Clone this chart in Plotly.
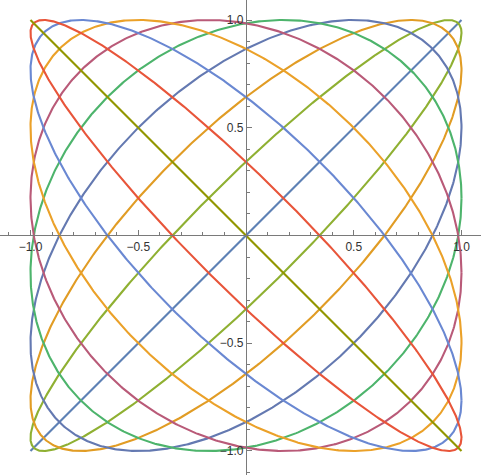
import numpy as np
import plotly.graph_objects as go

# Phase of each ellipse x = cos t, y = cos(t + k*pi/9)
phase_k = [0, 1, 2, 3, 4, 5, 6, 7, 8, 9]
phase_den = 9
colors = ["#5E81B5", "#8FB032", "#E19C24", "#6479B1", "#4DB46C",
          "#B95A78", "#EBA129", "#6A88D2", "#E8553A", "#929600"]

xtick_vals = [-1.0, -0.5, 0.5, 1.0]
xtick_text = ["\u22121.0", "\u22120.5", "0.5", "1.0"]
ytick_vals = [-1.0, -0.5, 0.5, 1.0]
ytick_text = ["\u22121.0", "\u22120.5", "0.5", "1.0"]

t = np.linspace(0, 2 * np.pi, 721)

fig = go.Figure()
for k, c in zip(phase_k, colors):
    phi = k * np.pi / phase_den
    fig.add_trace(go.Scatter(x=np.cos(t), y=np.cos(t + phi), mode="lines",
                             line=dict(color=c, width=2.1), hoverinfo="skip",
                             showlegend=False))

xr = [-1.1415, 1.0905]
yr = [-1.1114, 1.0928]
axis_col = "#7a7a7a"
font = dict(family="Liberation Sans, Arial, sans-serif", size=12, color="#333333")
minor_vals = [v / 10 for v in range(-11, 11) if v % 5 != 0]

fig.update_layout(
    width=481, height=475,
    margin=dict(l=0, r=0, t=0, b=0, autoexpand=False),
    plot_bgcolor="white", paper_bgcolor="white",
    font=font,
    xaxis=dict(range=xr, showgrid=False, zeroline=False, showline=True,
               linecolor=axis_col, linewidth=1.2, automargin=False,
               anchor="free", position=(0 - yr[0]) / (yr[1] - yr[0]),
               tickvals=xtick_vals, ticktext=xtick_text,
               ticks="inside", ticklen=5, tickcolor=axis_col, tickwidth=1,
               minor=dict(tickvals=minor_vals, ticks="inside", ticklen=3,
                          tickcolor=axis_col),
               tickfont=font, fixedrange=True),
    yaxis=dict(range=yr, showgrid=False, zeroline=False, showline=True,
               linecolor=axis_col, linewidth=1.2, automargin=False,
               anchor="free", position=(0 - xr[0]) / (xr[1] - xr[0]),
               tickvals=ytick_vals, ticktext=ytick_text,
               ticks="inside", ticklen=5, tickcolor=axis_col, tickwidth=1,
               minor=dict(tickvals=minor_vals, ticks="inside", ticklen=3,
                          tickcolor=axis_col),
               tickfont=font, fixedrange=True),
)

fig.write_html("out.html", config={"displayModeBar": False},
               post_script="document.body.style.margin='0';")
